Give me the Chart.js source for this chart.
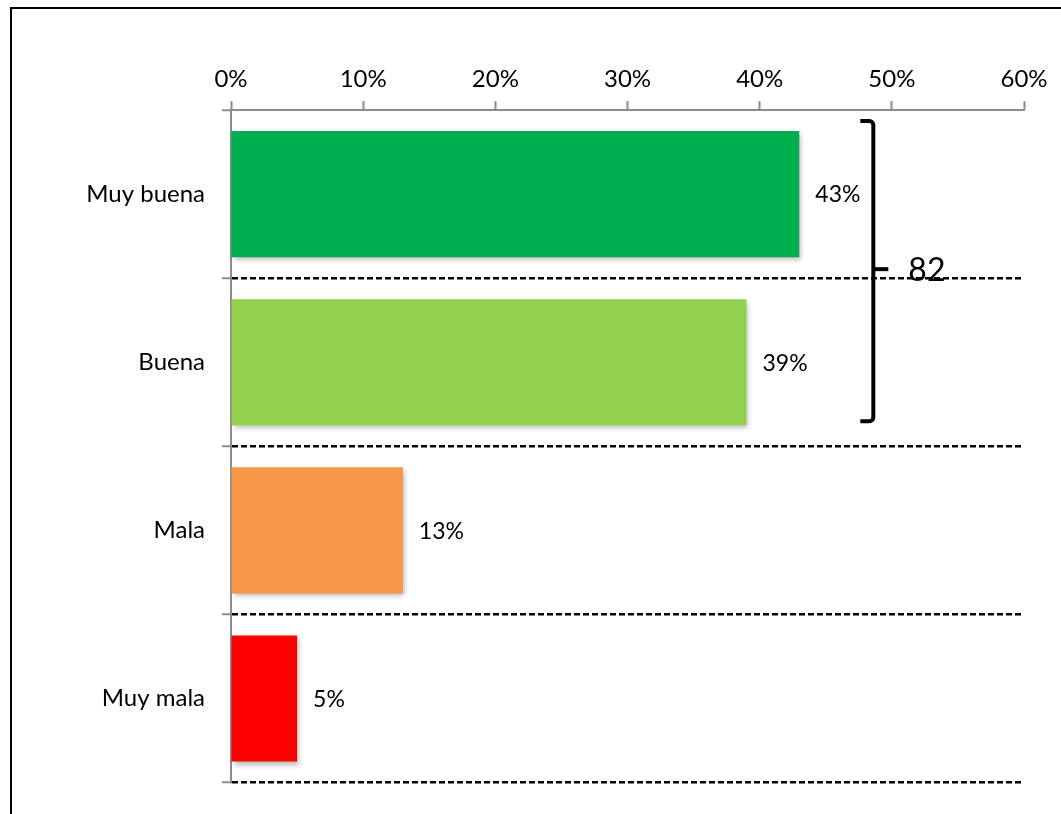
<!DOCTYPE html>
<html>
<head>
<meta charset="utf-8">
<script src="https://cdn.jsdelivr.net/npm/chart.js@4.4.1/dist/chart.umd.min.js"></script>
<style>
    html, body { margin: 0; padding: 0; background: #fff; overflow: hidden; }
    #wrap { position: relative; width: 1061px; height: 814px; }
    #frame { position: absolute; left: 10px; top: 7px; width: 1100px; height: 900px; border: 2px solid #000; box-sizing: border-box; pointer-events: none; }
    canvas { position: absolute; left: 0; top: 0; }
</style>
</head>
<body>
<div id="wrap">
    <canvas id="chart" width="1061" height="814"></canvas>
    <div id="frame"></div>
</div>
<script>
// Rating categories, share of answers (%) and bar colours, top to bottom.
const categories = ['Muy buena', 'Buena', 'Mala', 'Muy mala'];
const shares = [43, 39, 13, 5];
const barColors = ['#00B050', '#92D050', '#F79646', '#FF0000'];
const xTicks = [0, 10, 20, 30, 40, 50, 60];
// Bracket grouping the two positive answers, and its total.
const bracketGroup = ['Muy buena', 'Buena'];
const bracketTotal = '82';
const bracketAt = 48.6; // x position of the bracket, in axis units (%)

const FONT = 'Lato, "Open Sans", sans-serif';

// Soft drop shadow under the bars, like the original's bar effect.
const barShadow = {
    id: 'barShadow',
    beforeDatasetsDraw(chart) {
        const ctx = chart.ctx;
        ctx.save();
        ctx.shadowColor = 'rgba(0,0,0,0.28)';
        ctx.shadowBlur = 5;
        ctx.shadowOffsetX = 2;
        ctx.shadowOffsetY = 3;
    },
    afterDatasetsDraw(chart) {
        chart.ctx.restore();
    },
};

// "43%" style labels just past the end of each bar.
const valueLabels = {
    id: 'valueLabels',
    afterDatasetsDraw(chart) {
        const ctx = chart.ctx;
        const meta = chart.getDatasetMeta(0);
        ctx.save();
        ctx.font = `23px ${FONT}`;
        ctx.fillStyle = '#000';
        ctx.textAlign = 'left';
        ctx.textBaseline = 'middle';
        meta.data.forEach((bar, i) => {
            ctx.fillText(`${shares[i]}%`, bar.x + 16, bar.y + 1);
        });
        ctx.restore();
    },
};

// Bracket spanning the first two bars, with the total beside it.
const bracket = {
    id: 'bracket',
    afterDraw(chart) {
        const ctx = chart.ctx;
        const meta = chart.getDatasetMeta(0);
        const first = meta.data[categories.indexOf(bracketGroup[0])];
        const last = meta.data[categories.indexOf(bracketGroup[bracketGroup.length - 1])];
        const x = chart.scales.x.getPixelForValue(bracketAt);
        const top = first.y - first.height / 2 - 10;
        const bottom = last.y + last.height / 2 - 4;
        const mid = (top + bottom) / 2;
        const hook = 13;
        const r = 4;
        ctx.save();
        ctx.strokeStyle = '#000';
        ctx.lineWidth = 4;
        ctx.lineCap = 'butt';
        ctx.lineJoin = 'round';
        ctx.beginPath();
        ctx.moveTo(x - hook, top);
        ctx.arcTo(x, top, x, top + r, r);
        ctx.lineTo(x, bottom - r);
        ctx.arcTo(x, bottom, x - hook, bottom, r);
        ctx.lineTo(x - hook, bottom);
        ctx.stroke();
        ctx.beginPath();
        ctx.moveTo(x, mid - 2);
        ctx.lineTo(x + 15, mid - 2);
        ctx.stroke();
        ctx.font = `32px ${FONT}`;
        ctx.fillStyle = '#000';
        ctx.textAlign = 'left';
        ctx.textBaseline = 'middle';
        ctx.fillText(bracketTotal, x + 35, mid);
        ctx.restore();
    },
};

new Chart(document.getElementById('chart'), {
    type: 'bar',
    data: {
        labels: categories,
        datasets: [{
            data: shares,
            backgroundColor: barColors,
            borderWidth: 0,
            categoryPercentage: 1,
            barPercentage: 0.75,
        }],
    },
    options: {
        indexAxis: 'y',
        responsive: false,
        animation: false,
        devicePixelRatio: 1,
        layout: { padding: { left: 0, top: 0, right: 37, bottom: 24 } },
        plugins: { legend: { display: false }, tooltip: { enabled: false } },
        scales: {
            x: {
                position: 'top',
                min: 0,
                max: 60,
                afterBuildTicks(scale) {
                    scale.ticks = xTicks.map(v => ({ value: v }));
                },
                afterFit(scale) { scale.height = 110; },
                grid: { drawOnChartArea: false, color: '#8c8c8c', tickLength: 9, tickWidth: 2 },
                border: { color: '#8c8c8c', width: 2 },
                ticks: {
                    color: '#000',
                    padding: 7,
                    maxRotation: 0,
                    font: { family: FONT, size: 24 },
                    callback: v => `${v}%`,
                },
            },
            y: {
                afterFit(scale) { scale.width = 231; },
                grid: {
                    offset: true,
                    color: c => (c.index === 0 ? 'rgba(0,0,0,0)' : '#000'),
                    lineWidth: 2.5,
                    tickColor: '#8c8c8c',
                    tickLength: 9,
                    tickWidth: 2,
                },
                border: { color: '#8c8c8c', width: 2, dash: [6, 3] },
                ticks: {
                    color: '#000',
                    padding: 17,
                    font: { family: FONT, size: 24 },
                },
            },
        },
    },
    plugins: [barShadow, valueLabels, bracket],
});
</script>
</body>
</html>
